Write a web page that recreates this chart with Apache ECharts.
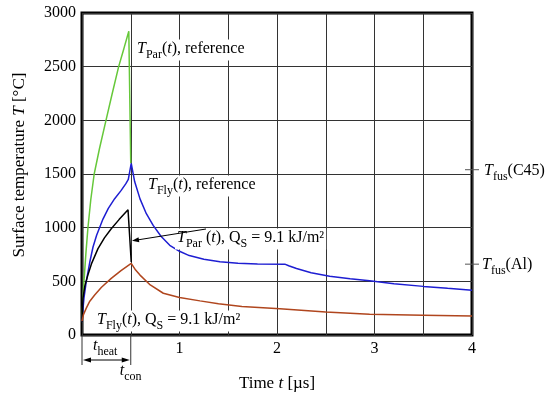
<!DOCTYPE html>
<html>
<head>
<meta charset="utf-8">
<script src="https://cdn.jsdelivr.net/npm/echarts@6/dist/echarts.min.js"></script>
<style>html,body{margin:0;padding:0;background:#fff}#c{width:550px;height:397px}</style>
</head>
<body>
<div id="c"></div>
<script>
// Time (µs) and surface temperature (°C)
var parRefTime = [0, 0.01, 0.02, 0.04, 0.06, 0.09, 0.125, 0.18, 0.246, 0.31, 0.376, 0.43, 0.48, 0.5];
var parRefTemp = [120, 330, 500, 760, 990, 1260, 1500, 1740, 2000, 2250, 2500, 2670, 2830, 1600];

var flyRefTime = [0, 0.01, 0.02, 0.044, 0.08, 0.113, 0.15, 0.215, 0.27, 0.335, 0.4, 0.45, 0.475, 0.49, 0.505, 0.54, 0.595, 0.66, 0.73, 0.81, 0.9, 1.0, 1.1, 1.25, 1.415, 1.6, 1.8, 2.08, 2.12, 2.2, 2.35, 2.54, 2.75, 2.95, 3.2, 3.5, 3.75, 4];
var flyRefTemp = [120, 240, 343, 500, 680, 820, 930, 1080, 1180, 1270, 1345, 1410, 1450, 1525, 1600, 1430, 1268, 1130, 1021, 920, 836, 780, 740, 705, 682, 668, 662, 660, 645, 620, 580, 548, 525, 506, 478, 453, 435, 418];

var parQsTime = [0, 0.01, 0.03, 0.06, 0.1, 0.164, 0.23, 0.3, 0.38, 0.472, 0.505];
var parQsTemp = [120, 343, 460, 558, 670, 805, 905, 990, 1075, 1167, 680];

var flyQsTime = [0, 0.015, 0.044, 0.08, 0.13, 0.2, 0.3, 0.4, 0.505, 0.55, 0.595, 0.7, 0.834, 1.0, 1.21, 1.4, 1.64, 2.03, 2.5, 2.95, 3.5, 4];
var flyQsTemp = [130, 190, 250, 315, 373, 445, 528, 600, 667, 605, 558, 466, 389, 349, 318, 292, 265, 244, 215, 194, 184, 176];

var xTickLabels = ['1', '2', '3', '4'];
var yTicks = [0, 500, 1000, 1500, 2000, 2500, 3000];
var tFusC45 = 1540;
var tFusAl = 660;
var tHeat = 0.5;

function pairs(t, v) { return t.map(function (x, i) { return [x, v[i]]; }); }

var FF = 'Liberation Serif';
function richSet(color, size) {
  size = size || 16;
  return {
    n: { fontFamily: FF, fontSize: size, color: color, verticalAlign: 'bottom', padding: [0, 0, 4, 0] },
    i: { fontFamily: FF, fontSize: size, color: color, fontStyle: 'italic', verticalAlign: 'bottom', padding: [0, 0, 4, 0] },
    s: { fontFamily: FF, fontSize: 12, color: color, verticalAlign: 'bottom', padding: [0, 0, 0, 0] }
  };
}

var chart = echarts.init(document.getElementById('c'), null, { renderer: 'canvas' });
var option = {
  animation: false,
  backgroundColor: '#fff',
  grid: { left: 82, top: 13, right: 78, bottom: 60, show: true, borderColor: '#000', borderWidth: 3, backgroundColor: 'transparent' },
  xAxis: {
    type: 'value', min: 0, max: 4, interval: 0.5,
    axisLine: { show: false }, axisTick: { show: false },
    splitLine: { show: true, lineStyle: { color: '#333', width: 1 } },
    axisLabel: {
      fontFamily: FF, fontSize: 16, color: '#000', margin: 6,
      formatter: function (v) { var k = xTickLabels.indexOf(String(v)); return k >= 0 ? xTickLabels[k] : ''; }
    },
    name: '{n|Time }{i|t}{n| [µs]}', nameLocation: 'middle', nameGap: 40,
    nameTextStyle: { rich: richSet('#000', 17) }
  },
  yAxis: {
    type: 'value', min: 0, max: 3000, interval: 500,
    axisLine: { show: false }, axisTick: { show: false },
    splitLine: { show: true, lineStyle: { color: '#333', width: 1 } },
    axisLabel: { fontFamily: FF, fontSize: 16, color: '#000', margin: 6,
      formatter: function (v) { return yTicks.indexOf(v) >= 0 ? String(v) : ''; } }
  },
  series: [
    { type: 'line', data: pairs(parRefTime, parRefTemp), symbol: 'none', lineStyle: { color: '#66c83a', width: 1.5 }, z: 3 },
    { type: 'line', data: pairs(flyRefTime, flyRefTemp), symbol: 'none', lineStyle: { color: '#1e1ed2', width: 1.5 }, z: 4 },
    { type: 'line', data: pairs(parQsTime, parQsTemp), symbol: 'none', lineStyle: { color: '#000', width: 1.5 }, z: 5 },
    { type: 'line', data: pairs(flyQsTime, flyQsTemp), symbol: 'none', lineStyle: { color: '#b0461e', width: 1.5 }, z: 6 }
  ]
};
chart.setOption(option);

function px(t, v) { return chart.convertToPixel({ gridIndex: 0 }, [t, v]); }
function arrowHead(tx, ty, dx, dy, len, w) {
  var l = Math.sqrt(dx * dx + dy * dy); dx /= l; dy /= l;
  var bx = tx - dx * len, by = ty - dy * len;
  return { type: 'polygon', shape: { points: [[tx, ty], [bx - dy * w, by + dx * w], [bx + dy * w, by - dx * w]] }, style: { fill: '#000' }, z: 100 };
}
function label(x, y, text, color, bg) {
  return { type: 'text', x: x, y: y + 2, z: 90,
    style: { text: text, rich: richSet(color, 16), verticalAlign: 'middle', align: 'left', backgroundColor: bg ? '#fff' : null, padding: bg ? [1, 2, 0, 2] : 0 } };
}

var p0 = px(0, 0), pH = px(tHeat, 0);
var pC = px(4, tFusC45), pA = px(4, tFusAl);
var yArr = p0[1] + 25;
var g = [
  label(135, 48, '{i|T}{s|Par}{n|(}{i|t}{n|), reference}', '#5cbf35', true),
  label(146, 184, '{i|T}{s|Fly}{n|(}{i|t}{n|), reference}', '#2a2ac8', true),
  label(175, 237, '{i|T}{s|Par}{n| (}{i|t}{n|), Q}{s|S}{n| = 9.1 kJ/m²}', '#000', true),
  label(95, 319, '{i|T}{s|Fly}{n|(}{i|t}{n|), Q}{s|S}{n| = 9.1 kJ/m²}', '#c04a30', true),
  { type: 'line', z: 95, shape: { x1: 206, y1: 229, x2: 137, y2: 240 }, style: { stroke: '#000', lineWidth: 1 } },
  arrowHead(132, 240.8, -1, 0.16, 7, 2.5),
  // T_fus markers
  { type: 'line', z: 95, shape: { x1: pC[0] - 7, y1: pC[1], x2: pC[0] + 7, y2: pC[1] }, style: { stroke: '#555', lineWidth: 1 } },
  { type: 'line', z: 95, shape: { x1: pA[0] - 7, y1: pA[1], x2: pA[0] + 7, y2: pA[1] }, style: { stroke: '#555', lineWidth: 1 } },
  label(pC[0] + 12, pC[1] + 1, '{i|T}{s|fus}{n|(C45)}', '#000', false),
  label(pA[0] + 10, pA[1] + 1, '{i|T}{s|fus}{n|(Al)}', '#000', false),
  // y-axis title
  { type: 'text', x: 22, y: 165, rotation: Math.PI / 2, z: 90,
    style: { text: '{n|Surface temperature }{i|T}{n| [°C]}', rich: richSet('#000', 17), align: 'center', verticalAlign: 'middle' } },
  // t_heat annotation
  { type: 'line', z: 95, shape: { x1: p0[0], y1: p0[1], x2: p0[0], y2: p0[1] + 30 }, style: { stroke: '#333', lineWidth: 1 } },
  { type: 'line', z: 95, shape: { x1: pH[0], y1: p0[1], x2: pH[0], y2: p0[1] + 30 }, style: { stroke: '#333', lineWidth: 1 } },
  { type: 'line', z: 95, shape: { x1: p0[0] + 6, y1: yArr, x2: pH[0] - 6, y2: yArr }, style: { stroke: '#000', lineWidth: 1 } },
  arrowHead(p0[0] + 1, yArr, -1, 0, 8, 2.5),
  arrowHead(pH[0] - 1, yArr, 1, 0, 8, 2.5),
  label(p0[0] + 11, p0[1] + 11, '{i|t}{s|heat}', '#000', false),
  label(pH[0] - 11, p0[1] + 36, '{i|t}{s|con}', '#000', false)
];
chart.setOption({ graphic: g });
</script>
</body>
</html>
